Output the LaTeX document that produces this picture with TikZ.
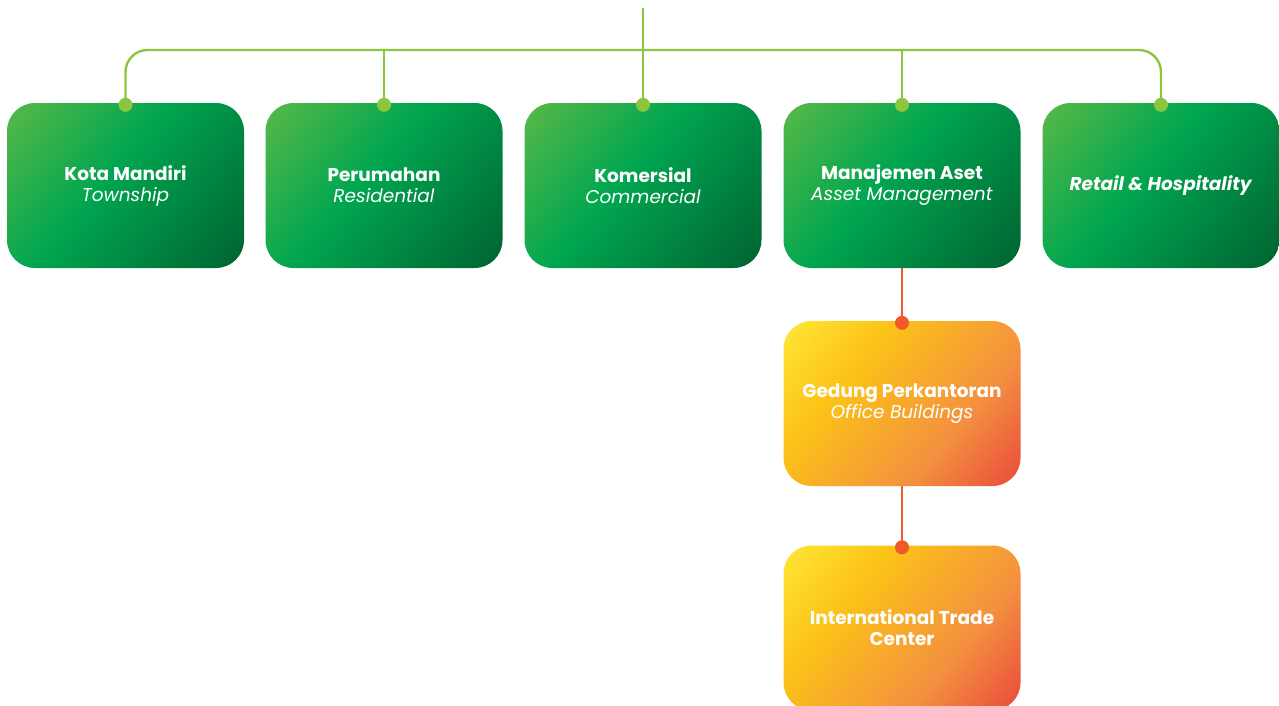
\documentclass[tikz,border=0pt]{standalone}
\usepackage{fontspec}
\newfontfamily\popfont{Poppins}
\definecolor{gLight}{HTML}{5BB947}
\definecolor{gMid}{HTML}{00A650}
\definecolor{gDark}{HTML}{005E2E}
\definecolor{oYellow}{HTML}{FFEC3A}
\definecolor{oGold}{HTML}{FCC317}
\definecolor{oOrange}{HTML}{F3913F}
\definecolor{oRed}{HTML}{E8393A}
\definecolor{lineGreen}{HTML}{8CC63F}
\definecolor{lineOrange}{HTML}{F05A28}
\pgfdeclarehorizontalshading{greengrad}{100bp}{color(0bp)=(gLight); color(14bp)=(gLight);
  color(45bp)=(gMid); color(88bp)=(gDark); color(100bp)=(gDark)}
\pgfdeclarehorizontalshading{orangegrad}{100bp}{color(0bp)=(oYellow); color(12bp)=(oYellow);
  color(35bp)=(oGold); color(64bp)=(oOrange); color(90bp)=(oRed); color(100bp)=(oRed)}
\begin{document}
\begin{tikzpicture}[
  x=1pt, y=-1pt,
  gbox/.style={rectangle, rounded corners=28pt, minimum width=237pt, minimum height=165pt,
               inner sep=0pt, shading=greengrad, shading angle=-40, text=white,
               align=center, font=\popfont\fontsize{18.5}{21}\selectfont},
  obox/.style={gbox, shading=orangegrad},
  gline/.style={draw=lineGreen, line width=2.4pt},
  oline/.style={draw=lineOrange, line width=2.2pt},
  gdot/.style={circle, fill=lineGreen, minimum size=14pt, inner sep=0pt},
  odot/.style={circle, fill=lineOrange, minimum size=14pt, inner sep=0pt},
]
\useasboundingbox (0,0) rectangle (1279,705);
\node[gbox] (kota) at (125.5,185.5) {\textbf{Kota Mandiri}\\\textit{Township}};
\node[gbox] (perumahan) at (384,185.5) {\textbf{Perumahan}\\\textit{Residential}};
\node[gbox] (komersial) at (643,185.5) {\textbf{Komersial}\\\textit{Commercial}};
\node[gbox] (aset) at (902,185.5) {\textbf{Manajemen Aset}\\\textit{Asset Management}};
\node[gbox] (retail) at (1161,185.5) {\textbf{\textit{Retail \& Hospitality}}};
\node[obox] (gedung) at (902,403.5) {\textbf{Gedung Perkantoran}\\\textit{Office Buildings}};
\node[obox] (itc) at (902,628) {\textbf{International Trade}\\\textbf{Center}};
\coordinate (top) at (643,8);
\coordinate (bus) at (643,50);
\draw[gline, rounded corners=22pt] (kota.north) |- (bus) -| (retail.north);
\draw[gline] (top) -- (komersial.north);
\draw[gline] (perumahan.north) -- (perumahan.north |- bus);
\draw[gline] (aset.north) -- (aset.north |- bus);
\draw[oline] (aset.south) -- (gedung.north);
\draw[oline] (gedung.south) -- (itc.north);
\foreach \b in {kota, perumahan, komersial, aset, retail}
  \node[gdot] at ([yshift=-2pt]\b.north) {};
\node[odot] at ([yshift=-2pt]gedung.north) {};
\node[odot] at ([yshift=-2pt]itc.north) {};
\end{tikzpicture}
\end{document}
